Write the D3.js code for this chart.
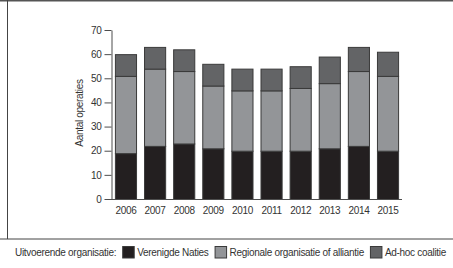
<!DOCTYPE html>
<html>
<head>
<meta charset="utf-8">
<script src="https://cdn.jsdelivr.net/npm/d3@7"></script>
<style>
  body { margin: 0; background: #fff; }
  svg { display: block; font-family: "Liberation Sans", Arial, sans-serif; }
  .axis text { font-size: 10px; fill: #333; letter-spacing: -0.3px; }
  .axis path, .axis line { stroke: #4d4d4d; }
</style>
</head>
<body>
<div id="chart"></div>
<script>
// chart data
const years = ['2006', '2007', '2008', '2009', '2010', '2011', '2012', '2013', '2014', '2015'];
const verenigdeNaties = [19, 22, 23, 21, 20, 20, 20, 21, 22, 20];
const regionaal = [32, 32, 30, 26, 25, 25, 26, 27, 31, 31];
const adHoc = [9, 9, 9, 9, 9, 9, 9, 11, 10, 10];
const seriesNames = ['Verenigde Naties', 'Regionale organisatie of alliantie', 'Ad-hoc coalitie'];
const yTicks = [0, 10, 20, 30, 40, 50, 60, 70];

const colors = ['#231f20', '#939598', '#636466'];

const width = 453;
const height = 268;

const svg = d3.select('#chart')
    .append('svg')
    .attr('width', width)
    .attr('height', height);

// frame: top line, left line, divider above legend
svg.append('line')
    .attr('x1', 0).attr('x2', width).attr('y1', 0.75).attr('y2', 0.75)
    .attr('stroke', '#555').attr('stroke-width', 1.5);
svg.append('line')
    .attr('x1', 7.5).attr('x2', 7.5).attr('y1', 0).attr('y2', 239)
    .attr('stroke', '#444').attr('stroke-width', 1);
svg.append('line')
    .attr('x1', 0).attr('x2', width).attr('y1', 239).attr('y2', 239)
    .attr('stroke', '#444').attr('stroke-width', 1);

const table = years.map((y, i) => ({
    year: y,
    vn: verenigdeNaties[i],
    reg: regionaal[i],
    adhoc: adHoc[i],
}));

const stack = d3.stack().keys(['vn', 'reg', 'adhoc']);
const layers = stack(table);

const xScale = d3.scaleBand()
    .domain(years)
    .range([112, 402])
    .paddingInner(0.24)
    .paddingOuter(0.1);

const yScale = d3.scaleLinear()
    .domain([0, 70])
    .range([199, 30]);

// bars
svg.append('g')
    .selectAll('g')
    .data(layers)
    .join('g')
    .attr('fill', (d, i) => colors[i])
    .selectAll('rect')
    .data((d) => d)
    .join('rect')
    .attr('x', (d) => xScale(d.data.year) + 0.5)
    .attr('y', (d) => yScale(d[1]) + 0.5)
    .attr('width', xScale.bandwidth() - 1)
    .attr('height', (d) => yScale(d[0]) - yScale(d[1]))
    .attr('stroke', '#3a3a3a')
    .attr('stroke-width', 1);

// y axis
const yAxis = svg.append('g')
    .attr('class', 'axis')
    .attr('transform', 'translate(111.5, 0)')
    .call(d3.axisLeft(yScale).tickValues(yTicks).tickSize(7).tickSizeOuter(0).tickPadding(3));

// x axis
const xAxis = svg.append('g')
    .attr('class', 'axis')
    .attr('transform', 'translate(0, 199.5)')
    .call(d3.axisBottom(xScale).tickSize(0).tickSizeOuter(0).tickPadding(7));
xAxis.select('.domain').attr('d', 'M111,0H402');

// y label
svg.append('text')
    .attr('transform', 'translate(83, 113) rotate(-90)')
    .attr('text-anchor', 'middle')
    .style('font-size', '10px')
    .style('letter-spacing', '-0.3px')
    .style('fill', '#333')
    .text('Aantal operaties');

// legend
const legend = svg.append('g').attr('transform', 'translate(0, 256)');
let lx = 15;
const title = legend.append('text')
    .attr('x', lx)
    .style('font-size', '10px')
    .style('letter-spacing', '-0.3px')
    .style('fill', '#333')
    .text('Uitvoerende organisatie:');
lx += title.node().getComputedTextLength() + 6;

seriesNames.forEach((name, i) => {
    legend.append('rect')
        .attr('x', lx + 0.5)
        .attr('y', -9.5)
        .attr('width', 11.5)
        .attr('height', 11.5)
        .attr('fill', colors[i])
        .attr('stroke', '#3a3a3a');
    const t = legend.append('text')
        .attr('x', lx + 15)
        .style('font-size', '10px')
        .style('letter-spacing', '-0.3px')
        .style('fill', '#333')
        .text(name);
    lx += 15 + t.node().getComputedTextLength() + 6;
});
</script>
</body>
</html>
